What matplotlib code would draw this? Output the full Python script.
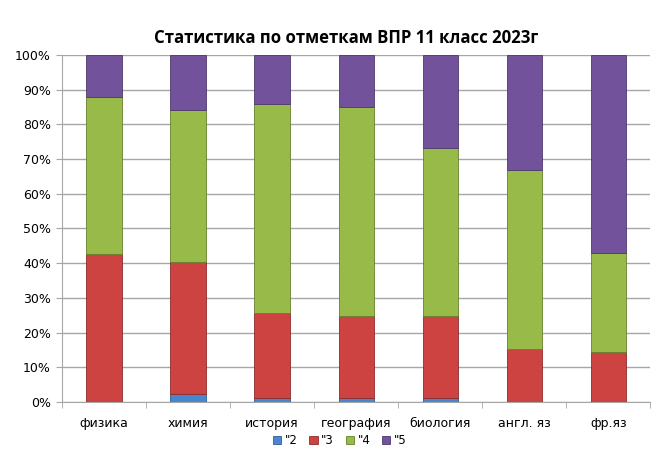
"""Stacked 100% bar chart: VPR grades, 11th grade, 2023."""

import matplotlib
matplotlib.use("Agg")
import matplotlib.pyplot as plt
import numpy as np
from matplotlib.ticker import FixedLocator, PercentFormatter

# data (percent of students per grade)
subjects = ["физика", "химия", "история", "география", "биология", "англ. яз", "фр.яз"]
grade_labels = ['"2', '"3', '"4', '"5']
grade2 = [0.0, 2.2, 1.1, 1.1, 1.1, 0.0, 0.0]
grade3 = [42.6, 38.1, 24.5, 23.7, 23.7, 15.4, 14.3]
grade4 = [45.4, 43.8, 60.3, 60.3, 48.3, 51.3, 28.6]
grade5 = [12.0, 15.9, 14.1, 14.9, 26.9, 33.3, 57.1]

colors = ["#4A86CF", "#CC4341", "#97BA48", "#72529B"]
edges = ["#2F5E96", "#8E2B2A", "#67802F", "#4E386D"]

fig = plt.figure(figsize=(6.56, 4.61), dpi=100)
ax = fig.add_axes([0.0945, 0.128, 0.897, 0.753])

x = np.arange(len(subjects))
bottom = np.zeros(len(subjects))
handles = []
for vals, c, ec, lab in zip([grade2, grade3, grade4, grade5], colors, edges, grade_labels):
    vals = np.array(vals)
    h = ax.bar(x, vals, 0.42, bottom=bottom, color=c, edgecolor=ec,
               linewidth=0.6, label=lab, zorder=3)
    handles.append(h)
    bottom += vals

ax.set_xlim(-0.5, len(subjects) - 0.5)
ax.set_ylim(0, 100)
ax.set_yticks(np.arange(0, 101, 10))
ax.yaxis.set_major_formatter(PercentFormatter(decimals=0))
ax.grid(axis="y", color="#A6A6A6", linewidth=1.0, zorder=0)

ax.set_xticks(x)
ax.set_xticklabels(subjects, fontsize=9)
ax.tick_params(axis="x", length=0, pad=11)
ax.xaxis.set_minor_locator(FixedLocator(np.arange(-0.5, len(subjects), 1.0)))
ax.tick_params(axis="x", which="minor", length=4, color="#A6A6A6")
ax.tick_params(axis="y", labelsize=9, length=4, color="#A6A6A6", pad=4)

for side in ["top", "right"]:
    ax.spines[side].set_visible(False)
for side in ["left", "bottom"]:
    ax.spines[side].set_color("#A6A6A6")

fig.text(0.527, 0.918, "Статистика по отметкам ВПР 11 класс 2023г",
         ha="center", va="center", fontsize=12.1, fontweight="bold",
         family="Open Sans")

leg = fig.legend(handles=handles, labels=grade_labels, loc="center",
                 bbox_to_anchor=(0.518, 0.044), ncol=4, frameon=False,
                 fontsize=8.5, handlelength=0.7, handleheight=0.7,
                 handletextpad=0.3, columnspacing=1.0)

fig.savefig("out.png", dpi=100)
